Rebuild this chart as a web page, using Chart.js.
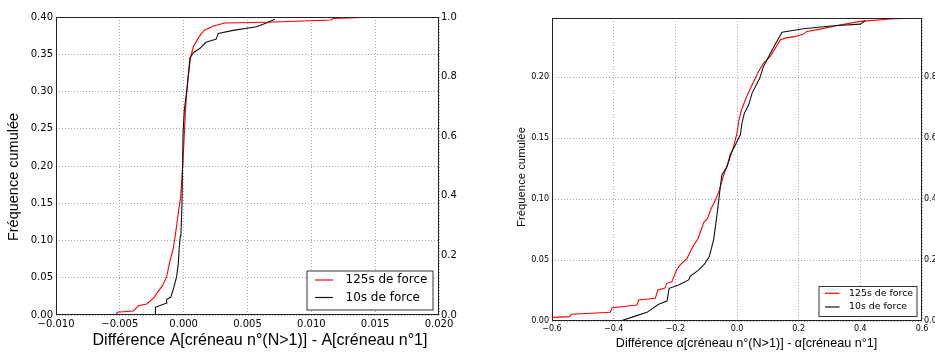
<!DOCTYPE html>
<html>
<head>
<meta charset="utf-8">
<script src="https://cdn.jsdelivr.net/npm/chart.js@4"></script>
<style>
  html, body { margin: 0; padding: 0; background: #fff; overflow: hidden; width: 935px; height: 356px; }
  #gauche { position: absolute; left: 0; top: 0; }
  #droite { position: absolute; left: 470px; top: 0; }
</style>
</head>
<body>
<canvas id="gauche" width="470" height="356"></canvas>
<canvas id="droite" width="470" height="356"></canvas>
<script>
// ---- données ----
const series = ['125s de force', '10s de force'];

// gauche : différence A (fréquence cumulée, axe de gauche 0..0.40)
const ampLongX = [-0.00523, -0.00523, -0.00393, -0.00354, -0.00289, -0.00232, -0.00211, -0.00167, -0.00133, -0.00112, -0.00081, -0.00063, -0.00042, -0.00023, -0.00008, 0.00003, 0.00013, 0.00029, 0.00055, 0.00076, 0.00115, 0.00159, 0.00232, 0.00323, 0.00648, 0.01156, 0.0117, 0.0151];
const ampLongY = [0, 0.0036, 0.0054, 0.0125, 0.0148, 0.0233, 0.029, 0.039, 0.0515, 0.069, 0.0896, 0.110, 0.137, 0.159, 0.199, 0.235, 0.271, 0.311, 0.347, 0.360, 0.372, 0.382, 0.388, 0.392, 0.393, 0.396, 0.398, 0.400];
const ampCourtX = [-0.00221, -0.00221, -0.00159, -0.00138, -0.00133, -0.00102, -0.00081, -0.00055, -0.00042, -0.00034, -0.00026, -0.00021, -0.00013, -0.00005, 0.00005, 0.00029, 0.00049, 0.00076, 0.00128, 0.00174, 0.00232, 0.00253, 0.00271, 0.00388, 0.0057, 0.00648, 0.00714];
const ampCourtY = [0, 0.0103, 0.0143, 0.0157, 0.021, 0.0237, 0.0345, 0.0515, 0.069, 0.092, 0.106, 0.110, 0.150, 0.244, 0.275, 0.307, 0.345, 0.352, 0.358, 0.366, 0.369, 0.370, 0.378, 0.382, 0.387, 0.392, 0.397];

// droite : différence alpha (axe de gauche 0..0.2485)
const alphaLongX = [-0.6, -0.543, -0.537, -0.411, -0.405, -0.324, -0.319, -0.265, -0.257, -0.235, -0.227, -0.211, -0.196, -0.184, -0.162, -0.143, -0.126, -0.108, -0.095, -0.086, -0.070, -0.057, -0.043, -0.027, -0.011, 0, 0.0054, 0.013, 0.027, 0.049, 0.070, 0.086, 0.108, 0.124, 0.141, 0.157, 0.189, 0.216, 0.227, 0.270, 0.324, 0.400, 0.508, 0.6];
const alphaLongY = [0.003, 0.0036, 0.0055, 0.0071, 0.0109, 0.0131, 0.0172, 0.0186, 0.0254, 0.0268, 0.0309, 0.0323, 0.0419, 0.046, 0.0514, 0.061, 0.0679, 0.0807, 0.0843, 0.0911, 0.0993, 0.1075, 0.1198, 0.1308, 0.1431, 0.154, 0.1636, 0.1718, 0.1814, 0.1937, 0.2046, 0.2115, 0.217, 0.2238, 0.2306, 0.232, 0.2334, 0.2353, 0.2375, 0.2394, 0.2424, 0.2457, 0.2479, 0.2484];
const alphaCourtX = [-0.378, -0.335, -0.292, -0.254, -0.227, -0.220, -0.189, -0.157, -0.151, -0.124, -0.105, -0.090, -0.083, -0.076, -0.067, -0.059, -0.054, -0.049, -0.032, -0.022, -0.005, 0.011, 0.016, 0.024, 0.038, 0.049, 0.074, 0.086, 0.103, 0.114, 0.146, 0.216, 0.314, 0.400, 0.416];
const alphaCourtY = [0, 0.0036, 0.0071, 0.0137, 0.0164, 0.0268, 0.0295, 0.0337, 0.0369, 0.0419, 0.0468, 0.0528, 0.0596, 0.0665, 0.0829, 0.0993, 0.1103, 0.1198, 0.1267, 0.1363, 0.1445, 0.1527, 0.1622, 0.1705, 0.1773, 0.1869, 0.1992, 0.2088, 0.217, 0.2224, 0.2369, 0.2397, 0.2421, 0.2435, 0.2465];

// graduations
const ampTicksX = [-0.010, -0.005, 0.000, 0.005, 0.010, 0.015, 0.020];
const ampTicksY = [0, 0.05, 0.10, 0.15, 0.20, 0.25, 0.30, 0.35, 0.40];
const alphaTicksX = [-0.6, -0.4, -0.2, 0.0, 0.2, 0.4, 0.6];
const alphaTicksY = [0, 0.05, 0.10, 0.15, 0.20];
const ticksDroite = [0, 0.2, 0.4, 0.6, 0.8, 1.0];

const points = (xs, ys) => xs.map((x, i) => ({x: x, y: ys[i]}));
const moins = s => s.replace('-', '\u2212');

// titres d'axes, cadre et légende dessinés à la main
const habillage = {
  id: 'habillage',
  afterDraw(chart, args, o) {
    const ctx = chart.ctx;
    const a = chart.chartArea;
    ctx.save();
    ctx.strokeStyle = '#222';
    ctx.lineWidth = 1;
    ctx.strokeRect(a.left + 0.5, a.top + 0.5, a.right - a.left - 1, a.bottom - a.top - 1);

    ctx.fillStyle = '#000';
    ctx.textAlign = 'center';
    ctx.textBaseline = 'middle';
    ctx.font = o.titreXTaille + 'px "Liberation Sans", Arial, sans-serif';
    ctx.fillText(o.titreX, o.xTitre[0], o.xTitre[1]);
    ctx.save();
    ctx.font = o.titreYTaille + 'px "Liberation Sans", Arial, sans-serif';
    ctx.translate(o.yTitre[0], o.yTitre[1]);
    ctx.rotate(-Math.PI / 2);
    ctx.fillText('Fréquence cumulée', 0, 0);
    ctx.restore();

    // légende
    const L = o.legende;
    ctx.fillStyle = '#fff';
    ctx.fillRect(L.x, L.y, L.w, L.h);
    ctx.strokeStyle = '#333';
    ctx.strokeRect(L.x + 0.5, L.y + 0.5, L.w, L.h);
    ctx.font = L.taille + 'px "DejaVu Sans", sans-serif';
    ctx.textAlign = 'left';
    chart.data.datasets.forEach((d, i) => {
      const y = L.lignes[i];
      ctx.strokeStyle = d.borderColor;
      ctx.lineWidth = 1.2;
      ctx.beginPath();
      ctx.moveTo(L.trait[0], y);
      ctx.lineTo(L.trait[1], y);
      ctx.stroke();
      ctx.fillStyle = '#000';
      ctx.fillText(d.label, L.texte, y);
    });
    ctx.restore();
  }
};

function graphique(id, rouge, noir, ech, cfg) {
  const tickFont = {family: '"DejaVu Sans", sans-serif', size: cfg.tickTaille};
  const grille = {color: '#a8a8a8', lineWidth: 1, drawTicks: false};
  return new Chart(document.getElementById(id), {
    type: 'line',
    data: {
      datasets: [
        {label: series[0], data: rouge, borderColor: '#ff0000', borderWidth: 1.1, pointRadius: 0, tension: 0, order: 2},
        {label: series[1], data: noir, borderColor: '#111', borderWidth: 1.1, pointRadius: 0, tension: 0, order: 1}
      ]
    },
    options: {
      responsive: false,
      animation: false,
      events: [],
      layout: {padding: {top: cfg.haut, left: 0, right: 0, bottom: 0}},
      plugins: {legend: {display: false}, tooltip: {enabled: false}, habillage: cfg.habillage},
      scales: {
        x: {
          type: 'linear', min: ech.tx[0], max: ech.tx[ech.tx.length - 1],
          afterBuildTicks: s => { s.ticks = ech.tx.map(v => ({value: v})); },
          afterFit: s => { s.height = cfg.basX; },
          grid: grille, border: {display: false, dash: [1, 2]},
          ticks: {font: tickFont, color: '#000', padding: 3, maxRotation: 0, callback: v => moins(v.toFixed(ech.dx))}
        },
        y: {
          position: 'left', min: 0, max: ech.ymax,
          afterBuildTicks: s => { s.ticks = ech.ty.map(v => ({value: v})); },
          afterFit: s => { s.width = cfg.gauche; },
          grid: grille, border: {display: false, dash: [1, 2]},
          ticks: {font: tickFont, color: '#000', padding: 3, callback: v => v.toFixed(2)}
        },
        y2: {
          position: 'right', min: 0, max: ech.y2max,
          afterBuildTicks: s => { s.ticks = ticksDroite.filter(v => v <= ech.y2max + 1e-9).map(v => ({value: v})); },
          afterFit: s => { s.width = cfg.droite; },
          grid: {display: false, drawTicks: false}, border: {display: false},
          ticks: {font: tickFont, color: '#000', padding: 2, callback: v => v.toFixed(1)}
        }
      }
    },
    plugins: [habillage]
  });
}

graphique('gauche', points(ampLongX, ampLongY), points(ampCourtX, ampCourtY),
  {tx: ampTicksX, ty: ampTicksY, dx: 3, ymax: 0.40, y2max: 1.0},
  {haut: 17, basX: 41, gauche: 56, droite: 31, tickTaille: 10,
   habillage: {
     titreX: 'Différence A[créneau n°(N>1)] - A[créneau n°1]', titreXTaille: 16, titreYTaille: 14.5,
     xTitre: [260, 341], yTitre: [14, 177],
     legende: {x: 306.5, y: 270.5, w: 126, h: 39, taille: 12, trait: [315, 333], texte: 345.5, lignes: [280, 297.5]}
   }});

graphique('droite', points(alphaLongX, alphaLongY), points(alphaCourtX, alphaCourtY),
  {tx: alphaTicksX, ty: alphaTicksY, dx: 1, ymax: 0.2485, y2max: 0.994},
  {haut: 18, basX: 35, gauche: 82, droite: 18, tickTaille: 8,
   habillage: {
     titreX: 'Différence α[créneau n°(N>1)] - α[créneau n°1]', titreXTaille: 12.6, titreYTaille: 11.3,
     xTitre: [276.5, 344], yTitre: [51.7, 177],
     legende: {x: 348.5, y: 286, w: 98, h: 30, taille: 9.4, trait: [355, 369.5], texte: 379, lignes: [293.3, 307]}
   }});
</script>
</body>
</html>
